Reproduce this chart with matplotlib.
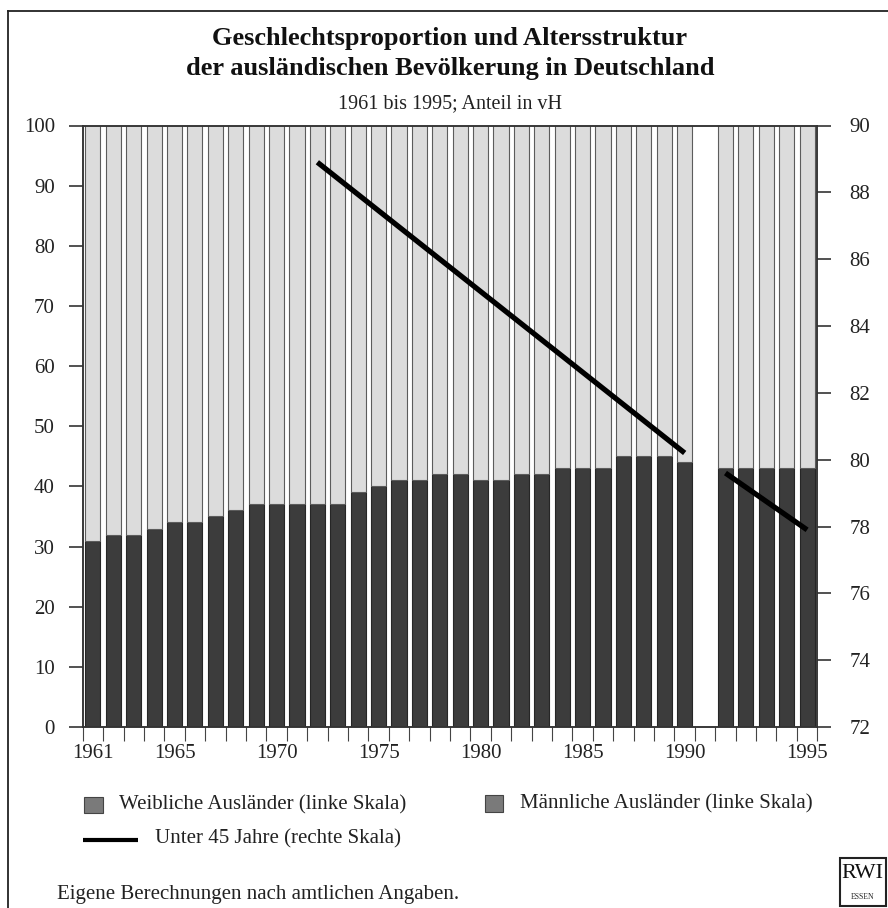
import numpy as np
import matplotlib
matplotlib.use('Agg')
import matplotlib.pyplot as plt
from matplotlib.patches import Rectangle
from matplotlib.lines import Line2D

plt.rcParams['font.family'] = ['Liberation Serif', 'DejaVu Serif']

# ---------------- data ----------------
years = list(range(1961, 1991)) + list(range(1991, 1996))
weibliche = [31, 32, 32, 33, 34, 34, 35, 36, 37, 37, 37, 37, 37, 39, 40,
             41, 41, 42, 42, 41, 41, 42, 42, 43, 43, 43, 45, 45, 45, 44,
             43, 43, 43, 43, 43]
maennliche = [69, 68, 68, 67, 66, 66, 65, 64, 63, 63, 63, 63, 63, 61, 60,
              59, 59, 58, 58, 59, 59, 58, 58, 57, 57, 57, 55, 55, 55, 56,
              57, 57, 57, 57, 57]
tick_years = [1961, 1965, 1970, 1975, 1980, 1985, 1990, 1995]
u45_years_west = [1972, 1990]
u45_west = [88.9, 80.2]
u45_years_all = [1991, 1995]
u45_all = [79.6, 77.9]

title1 = "Geschlechtsproportion und Altersstruktur"
title2 = "der ausländischen Bevölkerung in Deutschland"
subtitle = "1961 bis 1995; Anteil in vH"
leg_w = "Weibliche Ausländer (linke Skala)"
leg_m = "Männliche Ausländer (linke Skala)"
leg_l = "Unter 45 Jahre (rechte Skala)"
footer = "Eigene Berechnungen nach amtlichen Angaben."

# ---------------- layout ----------------
W, H = 888, 908
fig = plt.figure(figsize=(W / 100, H / 100), dpi=100)
fig.patch.set_facecolor('white')

def fx(px):
    return px / W

def fy(py):
    return 1 - py / H

L, R, T, B = 82.7, 817.3, 125.5, 727.0
ax = fig.add_axes([fx(L), fy(B), fx(R - L), (B - T) / H])

def pos(y):
    # blank slot between 1990 and 1991
    return (y - 1961) + (1 if y > 1990 else 0)

x = np.array([pos(y) for y in years])
bw = 0.74
ax.bar(x, weibliche, width=bw, color='#3c3c3c', edgecolor='#262626', linewidth=0.8, zorder=2)
ax.bar(x, maennliche, bottom=weibliche, width=bw, color='#dcdcdc', edgecolor='#5c5c5c',
       linewidth=0.8, zorder=2)

ax.set_xlim(-0.5, 35.5)
ax.set_ylim(0, 100)
ax.set_yticks(np.arange(0, 101, 10))
ax.set_xticks([pos(y) for y in tick_years])
ax.set_xticklabels([str(y) for y in tick_years])
ax.set_xticks(np.arange(-0.5, 36.0, 1.0), minor=True)
ax.tick_params(axis='x', which='major', length=0, pad=12, labelsize=15)
ax.tick_params(axis='x', which='minor', length=10, width=0.8, color='#444444', direction='out')
ax.tick_params(axis='y', which='major', length=10, width=1.1, color='#222222',
               direction='out', pad=10, labelsize=15, labelcolor='#222222')
ax.tick_params(axis='x', labelcolor='#222222')

for s in ax.spines.values():
    s.set_linewidth(1.1)
    s.set_color('#333333')

ax2 = ax.twinx()
ax2.set_ylim(72, 90)
ax2.set_yticks(np.arange(72, 91, 2))
ax2.tick_params(axis='y', length=10, width=1.1, color='#222222', direction='out',
                pad=13, labelsize=15, labelcolor='#222222')
for s in ax2.spines.values():
    s.set_linewidth(1.1)
    s.set_color('#333333')
ax2.plot([pos(y) for y in u45_years_west], u45_west, color='black', lw=3.8,
         solid_capstyle='butt', zorder=5)
ax2.plot([pos(y) for y in u45_years_all], u45_all, color='black', lw=3.8,
         solid_capstyle='butt', zorder=5)

# ---------------- titles ----------------
cx = fx((L + R) / 2)
fig.text(cx, fy(45), title1, ha='center', va='baseline', fontsize=19,
         fontweight='bold', color='#111111')
fig.text(cx, fy(75), title2, ha='center', va='baseline', fontsize=19,
         fontweight='bold', color='#111111')
fig.text(cx, fy(104), subtitle, ha='center', va='center', fontsize=14.5, color='#222222')

# ---------------- legend ----------------
fig.add_artist(Rectangle((fx(84), fy(813.3)), fx(18.5), 16.5 / H, transform=fig.transFigure,
                         facecolor='#7a7a7a', edgecolor='#444444', linewidth=0.8))
fig.text(fx(119.3), fy(805), leg_w, ha='left', va='center', fontsize=15, color='#222222')
fig.add_artist(Rectangle((fx(485), fy(811.7)), fx(18), 16.5 / H, transform=fig.transFigure,
                         facecolor='#7a7a7a', edgecolor='#444444', linewidth=0.8))
fig.text(fx(520), fy(804), leg_m, ha='left', va='center', fontsize=15, color='#222222')
fig.add_artist(Line2D([fx(82.7), fx(138.3)], [fy(840), fy(840)], transform=fig.transFigure,
                      color='black', lw=3.0, solid_capstyle='butt'))
fig.text(fx(155), fy(839), leg_l, ha='left', va='center', fontsize=15, color='#222222')

# ---------------- footer ----------------
fig.text(fx(57), fy(894), footer, ha='left', va='center', fontsize=15, color='#222222')

# RWI logo
fig.add_artist(Rectangle((fx(839.5), fy(905.5)), fx(46.5), 47.5 / H, transform=fig.transFigure,
                         facecolor='white', edgecolor='#222222', linewidth=1.5))
fig.text(fx(862.7), fy(874), "RWI", ha='center', va='center', fontsize=16, color='#111111')
fig.text(fx(862.7), fy(897), "ESSEN", ha='center', va='center', fontsize=5.5, color='#222222')

# frame of the whole graphic (cut at right and bottom)
fig.add_artist(Line2D([fx(8), fx(8)], [0, fy(11)], transform=fig.transFigure,
                      color='#222222', lw=1.3))
fig.add_artist(Line2D([fx(8), 1], [fy(11), fy(11)], transform=fig.transFigure,
                      color='#222222', lw=1.3))

fig.savefig('out.png', dpi=100, facecolor='white')
